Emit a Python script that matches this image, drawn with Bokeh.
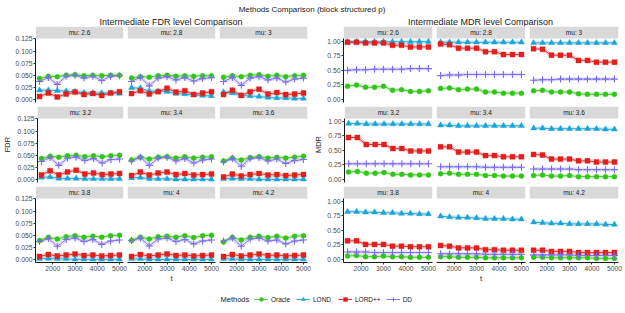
from bokeh.plotting import figure
from bokeh.models import (Range1d, FixedTicker, NumeralTickFormatter, BoxAnnotation,
                          Label, Div, Legend, LegendItem, ColumnDataSource)
from bokeh.layouts import row, column
from bokeh.embed import file_html
from bokeh.resources import INLINE

# ---------------- data ----------------
T = [1400, 1800, 2200, 2600, 3000, 3400, 3800, 4200, 4600, 5000]
MU_LABELS = ["mu: 2.6", "mu: 2.8", "mu: 3", "mu: 3.2", "mu: 3.4", "mu: 3.6",
             "mu: 3.8", "mu: 4", "mu: 4.2"]
METHODS = ["Oracle", "LOND", "LORD++", "DD"]
FDR_TICKS = [0, 0.025, 0.05, 0.075, 0.1, 0.125]
MDR_TICKS = [0, 0.25, 0.5, 0.75, 1.0]
X_TICKS = [2000, 3000, 4000, 5000]

FDR_ORACLE = [
    [0.043, 0.048, 0.047, 0.050, 0.051, 0.049, 0.050, 0.049, 0.050, 0.050],
    [0.044, 0.047, 0.046, 0.049, 0.050, 0.048, 0.049, 0.048, 0.049, 0.049],
    [0.046, 0.049, 0.047, 0.050, 0.051, 0.048, 0.050, 0.047, 0.049, 0.050],
    [0.043, 0.048, 0.046, 0.049, 0.050, 0.047, 0.049, 0.047, 0.049, 0.050],
    [0.040, 0.046, 0.042, 0.046, 0.047, 0.044, 0.047, 0.044, 0.046, 0.047],
    [0.038, 0.044, 0.040, 0.045, 0.047, 0.044, 0.046, 0.044, 0.046, 0.048],
    [0.039, 0.046, 0.042, 0.047, 0.049, 0.046, 0.048, 0.046, 0.049, 0.050],
    [0.039, 0.046, 0.042, 0.047, 0.048, 0.046, 0.049, 0.045, 0.049, 0.050],
    [0.036, 0.046, 0.040, 0.046, 0.048, 0.045, 0.048, 0.044, 0.048, 0.049],
]
FDR_LOND = [
    [0.019, 0.019, 0.018, 0.017, 0.016, 0.014, 0.013, 0.013, 0.013, 0.012],
    [0.024, 0.023, 0.017, 0.017, 0.016, 0.012, 0.011, 0.009, 0.008, 0.007],
    [0.015, 0.013, 0.008, 0.007, 0.006, 0.004, 0.003, 0.003, 0.002, 0.002],
    [0.004, 0.005, 0.002, 0.002, 0.002, 0.001, 0.001, 0.001, 0.001, 0.001],
    [0.003, 0.004, 0.001, 0.001, 0.001, 0.000, 0.000, 0.000, 0.000, 0.000],
    [0.001, 0.002, 0.001, 0.001, 0.000, 0.000, 0.000, 0.000, 0.000, 0.000],
    [0.001, 0.002, 0.001, 0.001, 0.000, 0.000, 0.000, 0.000, 0.000, 0.000],
    [0.001, 0.001, 0.000, 0.000, 0.000, 0.000, 0.000, 0.000, 0.000, 0.000],
    [0.001, 0.001, 0.000, 0.000, 0.000, 0.000, 0.000, 0.000, 0.000, 0.000],
]
FDR_LORD = [
    [0.006, 0.013, 0.005, 0.011, 0.015, 0.010, 0.012, 0.008, 0.013, 0.016],
    [0.012, 0.018, 0.011, 0.016, 0.023, 0.015, 0.018, 0.010, 0.013, 0.016],
    [0.010, 0.019, 0.008, 0.016, 0.021, 0.011, 0.014, 0.010, 0.011, 0.013],
    [0.009, 0.018, 0.009, 0.015, 0.019, 0.011, 0.013, 0.010, 0.011, 0.012],
    [0.008, 0.015, 0.009, 0.013, 0.015, 0.010, 0.012, 0.009, 0.010, 0.011],
    [0.005, 0.011, 0.007, 0.010, 0.012, 0.009, 0.010, 0.008, 0.009, 0.010],
    [0.006, 0.010, 0.007, 0.009, 0.011, 0.008, 0.009, 0.007, 0.008, 0.009],
    [0.006, 0.010, 0.007, 0.009, 0.011, 0.008, 0.009, 0.007, 0.008, 0.009],
    [0.006, 0.010, 0.007, 0.009, 0.011, 0.008, 0.009, 0.007, 0.008, 0.009],
]
FDR_DD = [
    [0.037, 0.045, 0.031, 0.048, 0.050, 0.044, 0.048, 0.039, 0.048, 0.049],
    [0.037, 0.046, 0.028, 0.044, 0.047, 0.040, 0.045, 0.038, 0.043, 0.045],
    [0.037, 0.045, 0.029, 0.044, 0.047, 0.040, 0.044, 0.036, 0.042, 0.044],
    [0.037, 0.045, 0.029, 0.044, 0.046, 0.039, 0.043, 0.034, 0.041, 0.042],
    [0.038, 0.046, 0.029, 0.044, 0.046, 0.038, 0.043, 0.034, 0.040, 0.042],
    [0.036, 0.043, 0.027, 0.043, 0.045, 0.038, 0.042, 0.033, 0.039, 0.041],
    [0.037, 0.043, 0.027, 0.041, 0.044, 0.037, 0.041, 0.031, 0.038, 0.040],
    [0.039, 0.044, 0.028, 0.042, 0.044, 0.037, 0.041, 0.032, 0.038, 0.040],
    [0.038, 0.044, 0.027, 0.042, 0.044, 0.038, 0.040, 0.032, 0.038, 0.040],
]

MDR_ORACLE = [
    [0.23, 0.25, 0.21, 0.21, 0.23, 0.16, 0.17, 0.14, 0.14, 0.15],
    [0.19, 0.20, 0.17, 0.18, 0.18, 0.13, 0.13, 0.11, 0.11, 0.11],
    [0.15, 0.16, 0.13, 0.13, 0.13, 0.10, 0.09, 0.09, 0.09, 0.09],
    [0.13, 0.14, 0.11, 0.11, 0.12, 0.09, 0.09, 0.08, 0.08, 0.08],
    [0.10, 0.11, 0.09, 0.09, 0.09, 0.07, 0.07, 0.06, 0.06, 0.06],
    [0.07, 0.08, 0.06, 0.06, 0.07, 0.05, 0.05, 0.05, 0.05, 0.05],
    [0.06, 0.07, 0.05, 0.05, 0.06, 0.05, 0.05, 0.04, 0.04, 0.04],
    [0.05, 0.05, 0.04, 0.04, 0.04, 0.03, 0.03, 0.03, 0.03, 0.03],
    [0.04, 0.04, 0.03, 0.03, 0.03, 0.03, 0.03, 0.02, 0.02, 0.02],
]
MDR_LOND = [
    [0.99, 0.99, 0.99, 0.99, 0.99, 0.99, 0.99, 0.99, 0.99, 0.99],
    [0.98, 0.98, 0.98, 0.98, 0.98, 0.98, 0.98, 0.98, 0.98, 0.98],
    [0.97, 0.97, 0.97, 0.97, 0.97, 0.97, 0.97, 0.97, 0.97, 0.97],
    [0.96, 0.96, 0.95, 0.95, 0.95, 0.95, 0.95, 0.95, 0.95, 0.95],
    [0.93, 0.93, 0.92, 0.92, 0.92, 0.92, 0.92, 0.92, 0.92, 0.92],
    [0.88, 0.88, 0.87, 0.87, 0.87, 0.87, 0.87, 0.87, 0.86, 0.86],
    [0.82, 0.82, 0.81, 0.81, 0.80, 0.80, 0.79, 0.79, 0.78, 0.78],
    [0.74, 0.73, 0.72, 0.72, 0.71, 0.70, 0.70, 0.70, 0.69, 0.69],
    [0.64, 0.63, 0.62, 0.62, 0.61, 0.61, 0.61, 0.61, 0.60, 0.60],
]
MDR_LORD = [
    [0.98, 0.98, 0.97, 0.97, 0.97, 0.93, 0.93, 0.90, 0.90, 0.90],
    [0.95, 0.94, 0.88, 0.88, 0.88, 0.82, 0.82, 0.77, 0.77, 0.77],
    [0.87, 0.86, 0.76, 0.76, 0.76, 0.67, 0.67, 0.64, 0.64, 0.64],
    [0.72, 0.72, 0.60, 0.60, 0.60, 0.53, 0.53, 0.49, 0.49, 0.49],
    [0.56, 0.56, 0.47, 0.47, 0.47, 0.41, 0.41, 0.39, 0.39, 0.39],
    [0.43, 0.42, 0.35, 0.35, 0.35, 0.32, 0.32, 0.30, 0.30, 0.30],
    [0.32, 0.32, 0.26, 0.26, 0.26, 0.23, 0.23, 0.22, 0.22, 0.22],
    [0.24, 0.23, 0.20, 0.20, 0.20, 0.17, 0.17, 0.16, 0.16, 0.16],
    [0.16, 0.16, 0.14, 0.14, 0.14, 0.12, 0.12, 0.12, 0.12, 0.12],
]
MDR_DD = [
    [0.50, 0.51, 0.51, 0.52, 0.52, 0.52, 0.52, 0.53, 0.53, 0.53],
    [0.41, 0.42, 0.42, 0.43, 0.43, 0.43, 0.43, 0.43, 0.43, 0.43],
    [0.33, 0.34, 0.34, 0.35, 0.35, 0.35, 0.35, 0.35, 0.35, 0.35],
    [0.27, 0.27, 0.27, 0.27, 0.27, 0.27, 0.27, 0.27, 0.27, 0.27],
    [0.22, 0.22, 0.22, 0.22, 0.22, 0.21, 0.21, 0.21, 0.21, 0.21],
    [0.18, 0.18, 0.18, 0.18, 0.18, 0.17, 0.17, 0.17, 0.17, 0.17],
    [0.13, 0.13, 0.13, 0.12, 0.12, 0.12, 0.12, 0.12, 0.12, 0.12],
    [0.10, 0.10, 0.10, 0.10, 0.10, 0.09, 0.09, 0.09, 0.09, 0.09],
    [0.08, 0.08, 0.08, 0.08, 0.08, 0.07, 0.07, 0.07, 0.07, 0.07],
]

FDR_DATA = {"Oracle": FDR_ORACLE, "LOND": FDR_LOND, "LORD++": FDR_LORD, "DD": FDR_DD}
MDR_DATA = {"Oracle": MDR_ORACLE, "LOND": MDR_LOND, "LORD++": MDR_LORD, "DD": MDR_DD}

# ---------------- style ----------------
FONT = "Liberation Sans"
COLORS = {"Oracle": "#33c41a", "LOND": "#1aa3d6", "LORD++": "#e0201e", "DD": "#7b6cf0"}
MARKERS = {"Oracle": ("circle", 5), "LOND": ("triangle", 6),
           "LORD++": ("square", 5), "DD": ("cross", 7)}
PH = 64      # plot area height
STRIP = 12   # strip height
ROW_GAP = 4
XR = (1220, 5180)

PANELS = {
    "FDR": dict(data=FDR_DATA, ylo=-0.0065, yhi=0.126, ticks=FDR_TICKS, fmt="0.000",
                fw=88, lb=35, rb=[4, 4, 4]),
    "MDR": dict(data=MDR_DATA, ylo=-0.05, yhi=1.045, ticks=MDR_TICKS, fmt="0.00",
                fw=89, lb=32, rb=[4, 4, 6]),
}


def style_scatter(mk):
    return dict(line_width=1.1 if mk == "cross" else 0.4)


def facet(metric, idx):
    cfg = PANELS[metric]
    r, c = divmod(idx, 3)
    ylo, yhi = cfg["ylo"], cfg["yhi"]
    ytop = yhi + (yhi - ylo) * STRIP / PH
    fw = cfg["fw"]
    lb = cfg["lb"] if c == 0 else 0
    rb = cfg["rb"][c]
    bb = 26 if r == 2 else ROW_GAP
    p = figure(width=lb + fw + rb, height=PH + STRIP + bb,
               x_range=Range1d(*XR), y_range=Range1d(ylo, ytop),
               output_backend="svg", toolbar_location=None,
               x_axis_location="below" if r == 2 else None,
               y_axis_location="left" if c == 0 else None,
               min_border_left=lb, min_border_right=rb,
               min_border_top=0, min_border_bottom=bb)
    p.grid.visible = False
    p.outline_line_color = None
    p.background_fill_color = "white"
    p.border_fill_color = "white"

    axes = []
    if c == 0:
        ax = p.yaxis[0]
        ax.ticker = FixedTicker(ticks=cfg["ticks"], minor_ticks=[])
        ax.formatter = NumeralTickFormatter(format=cfg["fmt"])
        ax.bounds = (ylo, yhi)
        if r == 1:
            ax.axis_label = metric
        ax.axis_label_standoff = 2
        axes.append(ax)
    if r == 2:
        ax = p.xaxis[0]
        ax.ticker = FixedTicker(ticks=X_TICKS, minor_ticks=[])
        ax.formatter = NumeralTickFormatter(format="0")
        if c == 1:
            ax.axis_label = "t"
        ax.axis_label_standoff = 0
        axes.append(ax)
    for ax in axes:
        ax.axis_line_color = "#1a1a1a"
        ax.axis_line_width = 1
        ax.major_tick_line_color = "#333333"
        ax.major_tick_out = 2
        ax.major_tick_in = 0
        ax.minor_tick_out = 0
        ax.minor_tick_in = 0
        ax.major_label_standoff = 1
        ax.major_label_text_font = FONT
        ax.major_label_text_font_size = "6.8px"
        ax.major_label_text_color = "#4d4d4d"
        ax.axis_label_text_font = FONT
        ax.axis_label_text_font_size = "7.5px"
        ax.axis_label_text_font_style = "normal"
        ax.axis_label_text_color = "#1a1a1a"

    # strip
    p.add_layout(BoxAnnotation(bottom=yhi, fill_color="#d9d9d9", fill_alpha=1.0,
                               line_color=None, level="underlay"))
    p.add_layout(Label(x=(XR[0] + XR[1]) / 2, y=(yhi + ytop) / 2, text=MU_LABELS[idx],
                       text_align="center", text_baseline="middle",
                       text_font=FONT, text_font_size="6.5px", text_color="#1a1a1a"))

    data = cfg["data"]
    for m in METHODS:
        p.line(T, data[m][idx], line_color=COLORS[m], line_width=4, line_alpha=0.2)
    for m in METHODS:
        col = COLORS[m]
        mk, sz = MARKERS[m]
        p.line(T, data[m][idx], line_color=col, line_width=0.9)
        p.scatter(T, data[m][idx], marker=mk, size=sz, fill_color=col,
                  line_color=col, **style_scatter(mk))
    return p


def panel(metric, title):
    cfg = PANELS[metric]
    figs = [facet(metric, i) for i in range(9)]
    total_w = sum(f.width for f in figs[:3])
    inner_w = cfg["fw"] * 3 + 8
    sub = Div(text=(f'<div style="margin-left:{cfg["lb"]}px;width:{inner_w}px;text-align:center;'
                    f'font-family:{FONT};font-size:9px;line-height:13px;color:#1a1a1a;'
                    f'white-space:nowrap;">{title}</div>'),
              width=total_w, height=13, margin=(0, 0, 0, 0))
    rows = [row(*figs[k * 3:(k + 1) * 3], spacing=0) for k in range(3)]
    return column(sub, *rows, spacing=0), total_w


left, wl = panel("FDR", "Intermediate FDR level Comparison")
right, wr = panel("MDR", "Intermediate MDR level Comparison")
TOTAL_W = wl + wr

main_title = Div(text=(f'<div style="width:{TOTAL_W}px;text-align:center;font-family:{FONT};'
                       f'font-size:8px;line-height:13px;color:#1a1a1a;white-space:nowrap;">'
                       f'Methods Comparison (block structured p)</div>'),
                 width=TOTAL_W, height=13, margin=(0, 0, 0, 0))

# legend strip
LH = 24
lg = figure(width=TOTAL_W, height=LH, x_range=Range1d(0, TOTAL_W), y_range=Range1d(0, LH),
            output_backend="svg", toolbar_location=None, min_border=0,
            x_axis_location=None, y_axis_location=None)
lg.grid.visible = False
lg.outline_line_color = None
items = []
for m in METHODS:
    # points placed outside the visible range so only the legend key shows
    src = ColumnDataSource(dict(x=[-1000, -999], y=[-1000, -1000]))
    mk, sz = MARKERS[m]
    r1 = lg.line("x", "y", source=src, line_color=COLORS[m], line_width=0.9)
    r2 = lg.scatter("x", "y", source=src, marker=mk, size=sz, fill_color=COLORS[m],
                    line_color=COLORS[m], **style_scatter(mk))
    items.append(LegendItem(label=m, renderers=[r1, r2]))
legend = Legend(items=items, orientation="horizontal", location=(254, 8),
                label_text_font=FONT, label_text_font_size="6.5px", label_text_color="#1a1a1a",
                glyph_width=14, glyph_height=10, label_height=10, label_standoff=3,
                spacing=5, padding=0, margin=0, border_line_color=None,
                background_fill_alpha=0)
lg.add_layout(legend)
lg.add_layout(Label(x=220, y=13, text="Methods", text_baseline="middle", text_align="left",
                    text_font=FONT, text_font_size="7.5px", text_color="#1a1a1a"))

layout = column(main_title, row(left, right, spacing=0), lg, spacing=0)

with open("out.html", "w") as fh:
    fh.write(file_html(layout, INLINE))
